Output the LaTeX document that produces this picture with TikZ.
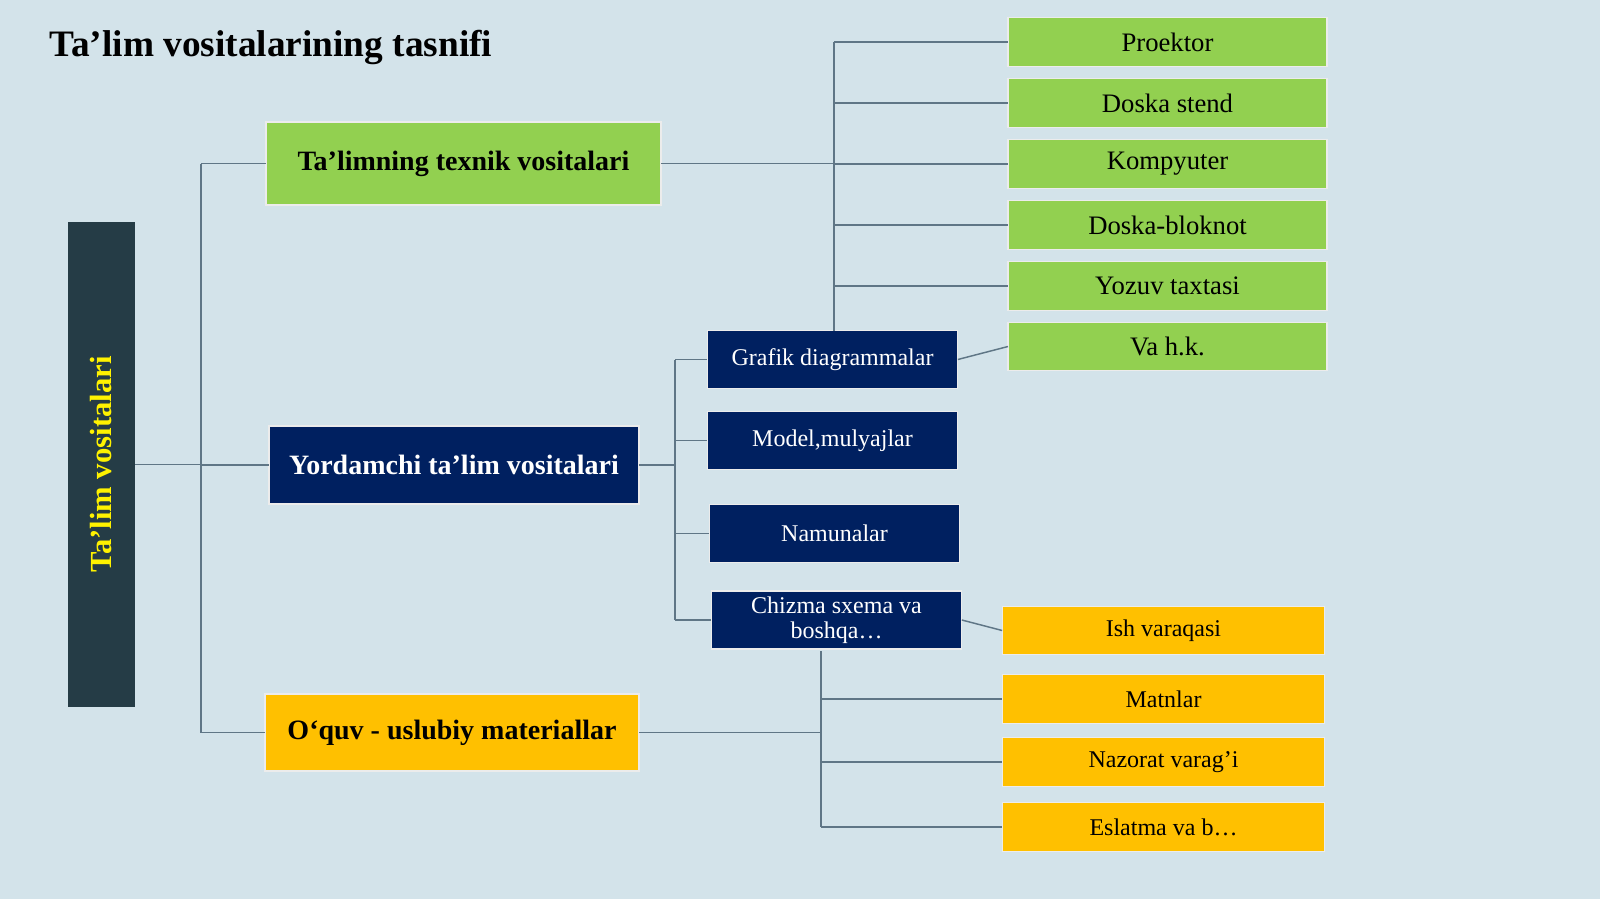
\documentclass[tikz,border=0pt]{standalone}
\usepackage{fontspec}
\setmainfont{Liberation Serif}
\definecolor{bg}{HTML}{D3E3EA}
\definecolor{grn}{HTML}{92D050}
\definecolor{nav}{HTML}{002060}
\definecolor{yel}{HTML}{FFC000}
\definecolor{slate}{HTML}{253C46}
\definecolor{ln}{HTML}{5F7686}
\begin{document}
\begin{tikzpicture}[x=0.75pt,y=-0.75pt,
  bx/.style={draw=white!85!gray,line width=0.8pt,inner sep=0pt,outer sep=0pt,align=center},
  gbox/.style={bx,fill=grn,text=black},
  nbox/.style={bx,fill=nav,text=white},
  ybox/.style={bx,fill=yel,text=black},
  cn/.style={draw=ln,line width=1.1pt}]
\fill[bg] (0,0) rectangle (1600,899);
\useasboundingbox (0,0) rectangle (1600,899);
\node[anchor=west,font=\fontsize{28}{32}\selectfont\bfseries] (title) at (45,47) {Ta’lim vositalarining tasnifi};
% bar
\node[bx,fill=slate,draw=none,minimum width=67pt*0.75,minimum height=485pt*0.75] (bar) at (101.5,464.5) {};
\node[rotate=90,text=yellow,font=\fontsize{23}{26}\selectfont\bfseries] (bart) at (101.5,464.5) {Ta’lim vositalari};
% mains
\node[gbox,minimum width=296.25pt,minimum height=62.25pt,font=\fontsize{21}{24}\selectfont\bfseries] (g) at (463.5,163.5) {Ta’limning texnik vositalari};
\node[nbox,minimum width=277.5pt,minimum height=58.5pt,font=\fontsize{21}{24}\selectfont\bfseries] (n) at (454,465) {Yordamchi ta’lim vositalari};
\node[ybox,minimum width=280.5pt,minimum height=57.75pt,font=\fontsize{21}{24}\selectfont\bfseries] (y) at (452,732.5) {O‘quv - uslubiy materiallar};
% green items
\foreach \i/\yy/\t in {1/42/Proektor,2/103/Doska stend,3/164/Kompyuter,4/225/Doska-bloknot,5/286/Yozuv taxtasi,6/346.5/Va h.k.}
  \node[gbox,minimum width=239.25pt,minimum height=36.5pt,font=\fontsize{20}{23}\selectfont] (g\i) at (1167.5,\yy) {\t};
% navy items
\node[nbox,minimum width=188pt,minimum height=43pt,font=\fontsize{18}{20}\selectfont] (n1) at (832.5,359.5) {Grafik diagrammalar};
\node[nbox,minimum width=188pt,minimum height=43pt,font=\fontsize{18}{20}\selectfont] (n2) at (832.5,440.5) {Model,mulyajlar};
\node[nbox,minimum width=188pt,minimum height=43pt,font=\fontsize{18}{20}\selectfont] (n3) at (834.5,533.5) {Namunalar};
\node[nbox,minimum width=188pt,minimum height=43.5pt,font=\fontsize{18}{19}\selectfont] (n4) at (836.5,620) {Chizma sxema va\\boshqa…};
% yellow items
\foreach \i/\yy/\t in {1/630.5/Ish varaqasi,2/699/Matnlar,3/762/Nazorat varag’i,4/827/Eslatma va b…}
  \node[ybox,minimum width=242pt,minimum height=36.5pt,font=\fontsize{18}{20}\selectfont] (y\i) at (1163.5,\yy) {\t};
% connectors
\coordinate (t1) at (201,163.5); \coordinate (t2) at (201,732.5);
\draw[cn] (bar.east) -- (201,464.5);
\draw[cn] (t1) -- (t2);
\draw[cn] (t1) -- (g.west);
\draw[cn] (201,465) -- (n.west);
\draw[cn] (t2) -- (y.west);
\draw[cn] (g.east) -- (834,163.5);
\draw[cn] (834,42) -- (834,331);
\foreach \i in {1,...,5} \draw[cn] (g\i.west-|834,0) -- (g\i.west);
\draw[cn] (n1.east) -- (g6.west);
\draw[cn] (n.east) -- (675,465);
\draw[cn] (675,359.5) -- (675,620);
\foreach \i in {1,...,4} \draw[cn] (n\i.west-|675,0) -- (n\i.west);
\draw[cn] (n4.east) -- (y1.west);
\draw[cn] (y.east) -- (821,732.5);
\draw[cn] (821,651) -- (821,827);
\foreach \i in {2,3,4} \draw[cn] (y\i.west-|821,0) -- (y\i.west);
\end{tikzpicture}
\end{document}
